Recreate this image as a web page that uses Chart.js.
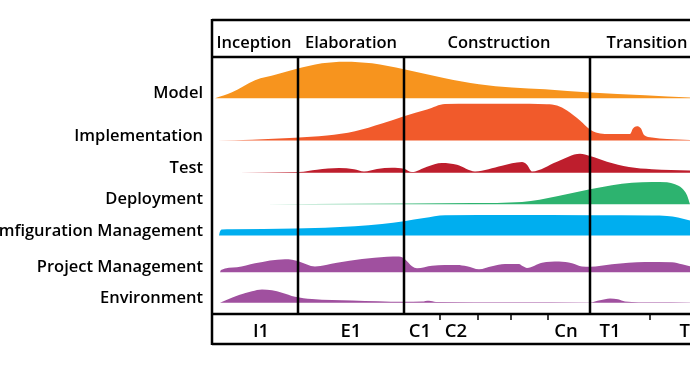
<!DOCTYPE html>
<html>
<head>
<meta charset="utf-8">
<script src="https://cdn.jsdelivr.net/npm/chart.js@4.4.1/dist/chart.umd.min.js"></script>
<style>
html, body { margin: 0; padding: 0; background: #fff; }
</style>
</head>
<body>
<canvas id="rup" width="690" height="387"></canvas>
<script>
// rows, top to bottom
const disciplines = ['Model', 'Implementation', 'Test', 'Deployment', 'Comfiguration Management', 'Project Management', 'Environment'];
const phases = ['Inception', 'Elaboration', 'Construction', 'Transition'];
const phaseMid = [42, 139, 287, 435];
const phaseEnds = [86, 192, 378];
const iterations = ['I1', 'E1', 'C1', 'C2', 'Cn', 'T1', 'T2'];
const iterationAt = [49, 139, 208, 244, 354, 398, 478];
const iterationTicks = [228, 266, 299, 336, 438];

// effort per discipline: [time, effort]
const model = [[3,0],[20,6],[43,18],[65,24],[83,29],[110,35],[133,36.6],[160,35],[192,29],[233,20],[267,14],[300,10.7],[333,9],[378,5.7],[433,3],[478,0.7]];
const implementation = [[5,0],[40,0.8],[83,2.7],[115,5],[143,9.3],[170,17],[192,24.3],[215,31],[233,36.5],[260,36.7],[300,36.7],[335,36.3],[345,35],[355,30],[368,20],[378,11],[386,7.5],[395,6.5],[418,6.5],[421,12],[425,14.3],[429,12],[432,5.5],[440,3],[455,1.5],[478,0.5]];
const test = [[5,0],[50,0.3],[87,0.7],[105,3],[127,4.7],[142,3.5],[152,1.3],[165,3.8],[180,5],[192,4],[200,0.7],[215,6],[230,9.7],[245,8],[263,1.3],[290,7],[310,10.7],[315,8],[320,1.3],[345,11],[368,19],[378,16.7],[395,11],[417,5.7],[440,3.5],[478,2.3]];
const deployment = [[5,0],[100,0.3],[200,0.7],[260,1.2],[310,2.3],[345,8],[378,15],[400,19],[420,21.5],[440,22.3],[455,22],[463,20],[470,16],[475,9],[478,0]];
const configuration = [[7,0],[8,4],[10,6],[20,6.3],[83,7],[143,9.3],[170,11.5],[192,14.3],[212,17.5],[233,20.3],[300,20.5],[378,20.3],[440,20],[455,19.5],[466,18],[478,15]];
const projectMgmt = [[8,0],[9,2.3],[25,5],[43,9],[73,13],[80,12.5],[87,10.7],[103,5.7],[125,9.5],[150,13.3],[175,15.5],[187,15.7],[190,15],[193,13],[200,6],[205,4],[220,6.5],[245,7.3],[255,6],[267,3],[280,6],[293,8.3],[307,8.3],[311,6],[315,4.3],[330,9.5],[347,10.7],[360,9],[370,5.7],[378,5.5],[400,8],[433,10.3],[460,10],[470,8],[478,6]];
const environment = [[8,0],[15,3],[27,7.7],[40,11.5],[50,13.3],[60,12.5],[70,10],[83,6],[100,3.7],[140,2.3],[192,1],[210,1.2],[217,2],[224,0.8],[300,0.5],[378,0.3],[388,2.5],[398,4.3],[406,3.5],[413,1.3],[440,0.5],[478,0.3]];

const curves = [model, implementation, test, deployment, configuration, projectMgmt, environment];
const colors = ['#F7941E', '#F15A2B', '#BE1E2D', '#2DB36F', '#00AEEF', '#A0509F', '#A0509F'];
// baseline of each row on the y axis
const rowBase = [215.7, 173.5, 141.3, 109.7, 78.5, 41.7, 11.3];

const datasets = curves.map((c, i) => ({
    label: disciplines[i],
    data: c.map(p => ({ x: p[0], y: rowBase[i] + p[1] })),
    backgroundColor: colors[i],
    borderWidth: 0,
    pointRadius: 0,
    fill: { value: rowBase[i] },
    cubicInterpolationMode: 'monotone'
}));

const frame = {
    id: 'frame',
    afterDatasetsDraw(chart) {
        const ctx = chart.ctx;
        const x = chart.scales.x, y = chart.scales.y;
        const a = chart.chartArea;
        ctx.save();
        ctx.strokeStyle = '#000';
        ctx.lineWidth = 2.5;
        ctx.beginPath();
        ctx.moveTo(a.left, 20); ctx.lineTo(a.right, 20);
        ctx.moveTo(a.left, a.top); ctx.lineTo(a.right, a.top);
        ctx.moveTo(a.left, a.bottom); ctx.lineTo(a.right, a.bottom);
        ctx.moveTo(a.left, 344); ctx.lineTo(a.right, 344);
        ctx.moveTo(a.left, 19); ctx.lineTo(a.left, 345);
        phaseEnds.forEach(v => {
            const px = x.getPixelForValue(v);
            ctx.moveTo(px, a.top); ctx.lineTo(px, a.bottom);
        });
        ctx.stroke();
        ctx.lineWidth = 1.5;
        ctx.beginPath();
        iterationTicks.forEach(v => {
            const px = x.getPixelForValue(v);
            ctx.moveTo(px, a.bottom); ctx.lineTo(px, a.bottom + 6);
        });
        ctx.stroke();

        ctx.fillStyle = '#000';
        ctx.textBaseline = 'alphabetic';
        ctx.font = '600 16.5px "Open Sans"';
        ctx.textAlign = 'center';
        phases.forEach((p, i) => ctx.fillText(p, x.getPixelForValue(phaseMid[i]), 48));

        ctx.textAlign = 'right';
        disciplines.forEach((d, i) => ctx.fillText(d, 203, y.getPixelForValue(rowBase[i])));

        ctx.font = '600 18.5px "Open Sans"';
        ctx.textAlign = 'center';
        iterations.forEach((t, i) => ctx.fillText(t, x.getPixelForValue(iterationAt[i]), 337));
        ctx.restore();
    }
};

new Chart(document.getElementById('rup').getContext('2d'), {
    type: 'line',
    data: { datasets: datasets },
    options: {
        responsive: false,
        animation: false,
        devicePixelRatio: 1,
        layout: { padding: { left: 212, right: 0, top: 57, bottom: 73 } },
        scales: {
            x: { type: 'linear', min: 0, max: 478, display: false },
            y: { min: 0, max: 257, display: false }
        },
        plugins: {
            legend: { display: false },
            tooltip: { enabled: false }
        }
    },
    plugins: [frame]
});
</script>
</body>
</html>
